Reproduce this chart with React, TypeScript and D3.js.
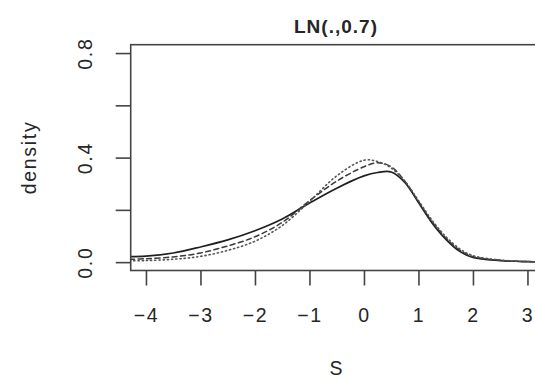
import * as d3 from "d3";
import { useEffect, useRef } from "react";

// grid of S values the curves were read at
const sGrid = [-4.3, -4, -3.5, -3, -2.5, -2, -1.5, -1, -0.5, 0, 0.25, 0.5, 0.75, 1, 1.25, 1.5, 1.75, 2, 2.5, 3, 3.5, 4, 4.3];

// density estimates
const solidDensity = [0.021, 0.023, 0.035, 0.058, 0.085, 0.12, 0.165, 0.226, 0.283, 0.33, 0.343, 0.345, 0.305, 0.228, 0.15, 0.088, 0.042, 0.018, 0.006, 0.002, 0.001, 0, 0];
const dashedDensity = [0.011, 0.013, 0.02, 0.035, 0.062, 0.097, 0.152, 0.235, 0.31, 0.365, 0.38, 0.365, 0.31, 0.232, 0.155, 0.093, 0.047, 0.021, 0.007, 0.002, 0.001, 0, 0];
const dottedDensity = [0.005, 0.006, 0.011, 0.022, 0.045, 0.08, 0.14, 0.232, 0.33, 0.39, 0.385, 0.36, 0.31, 0.236, 0.16, 0.098, 0.052, 0.025, 0.008, 0.002, 0.001, 0, 0];

const xTicks = [-4, -3, -2, -1, 0, 1, 2, 3];
const yTicks = [0, 0.2, 0.4, 0.6, 0.8];
const yLabelled = [0, 0.4, 0.8];

const title = "LN(.,0.7)";
const xTitle = "S";
const yTitle = "density";

export default function App() {
  const ref = useRef<SVGSVGElement>(null);

  useEffect(() => {
    if (!ref.current) return;
    const svg = d3.select(ref.current);
    svg.selectAll("*").remove();

    const font = "'Liberation Sans', Arial, sans-serif";
    const ink = "#262626";
    const boxLeft = 130.7;
    const boxTop = 44.7;
    const boxBottom = 270.5;

    const x = d3.scaleLinear().domain([-4.28, 3.28]).range([boxLeft, boxLeft + 7.56 * 54.5]);
    const y = d3.scaleLinear().domain([-0.032, 0.832]).range([boxBottom, boxTop]);

    const boxRight = x(3.28);

    svg
      .append("clipPath")
      .attr("id", "plot-clip")
      .append("rect")
      .attr("x", boxLeft)
      .attr("y", boxTop)
      .attr("width", boxRight - boxLeft)
      .attr("height", boxBottom - boxTop);

    const series = [
      { values: solidDensity, dash: null, color: "#1f1f1f", width: 1.7 },
      { values: dashedDensity, dash: "5,3.5", color: "#3a3a3a", width: 1.5 },
      { values: dottedDensity, dash: "1.2,3", color: "#555", width: 1.6 },
    ];

    const line = d3
      .line<[number, number]>()
      .x((d) => x(d[0]))
      .y((d) => y(d[1]))
      .curve(d3.curveCatmullRom.alpha(0.5));

    const plot = svg.append("g").attr("clip-path", "url(#plot-clip)");
    series.forEach((sr) => {
      plot
        .append("path")
        .datum(sGrid.map((s, i) => [s, sr.values[i]] as [number, number]))
        .attr("d", line)
        .attr("fill", "none")
        .attr("stroke", sr.color)
        .attr("stroke-width", sr.width)
        .attr("stroke-dasharray", sr.dash)
        .attr("stroke-linecap", "round");
    });

    // frame
    svg
      .append("rect")
      .attr("x", boxLeft)
      .attr("y", boxTop)
      .attr("width", boxRight - boxLeft)
      .attr("height", boxBottom - boxTop)
      .attr("fill", "none")
      .attr("stroke", "#444")
      .attr("stroke-width", 1.6);

    // x axis
    const gx = svg
      .append("g")
      .attr("transform", `translate(0,${boxBottom})`)
      .call(
        d3
          .axisBottom(x)
          .tickValues(xTicks)
          .tickSizeInner(15)
          .tickSizeOuter(0)
          .tickFormat((d) => String(d).replace("-", "\u2212"))
      );
    gx.select(".domain").remove();
    gx.selectAll(".tick line").attr("stroke", "#444").attr("stroke-width", 1.6);
    gx.selectAll(".tick text")
      .attr("y", 51.5)
      .attr("dy", 0)
      .attr("fill", ink)
      .style("font-family", font)
      .style("font-size", "19.5px")
      .style("letter-spacing", "1.5px");

    // y axis
    const gy = svg
      .append("g")
      .attr("transform", `translate(${boxLeft},0)`)
      .call(
        d3
          .axisLeft(y)
          .tickValues(yTicks)
          .tickSizeInner(15)
          .tickSizeOuter(0)
          .tickFormat((d) => (yLabelled.includes(+d) ? d3.format(".1f")(+d) : ""))
      );
    gy.select(".domain").remove();
    gy.selectAll(".tick line").attr("stroke", "#444").attr("stroke-width", 1.6);
    gy.selectAll(".tick text")
      .attr("x", 0)
      .attr("y", 0)
      .attr("dy", 0)
      .attr("transform", "translate(-38.5,0) rotate(-90)")
      .attr("text-anchor", "middle")
      .attr("fill", ink)
      .style("font-family", font)
      .style("font-size", "19.5px")
      .style("letter-spacing", "1.7px");

    // titles
    svg
      .append("text")
      .attr("x", 336)
      .attr("y", 32.5)
      .attr("text-anchor", "middle")
      .attr("fill", ink)
      .style("font-family", font)
      .style("font-size", "19px")
      .style("font-weight", "bold")
      .style("letter-spacing", "1px")
      .text(title);

    svg
      .append("text")
      .attr("x", 336)
      .attr("y", 375)
      .attr("text-anchor", "middle")
      .attr("fill", ink)
      .style("font-family", font)
      .style("font-size", "19.5px")
      .text(xTitle);

    svg
      .append("text")
      .attr("transform", "translate(35.5,157.5) rotate(-90)")
      .attr("text-anchor", "middle")
      .attr("fill", ink)
      .style("font-family", font)
      .style("font-size", "19.5px")
      .style("letter-spacing", "1.7px")
      .text(yTitle);
  }, []);

  return (
    <svg
      ref={ref}
      width={535}
      height={379}
      style={{ position: "absolute", left: 0, top: 0, background: "white" }}
    />
  );
}
